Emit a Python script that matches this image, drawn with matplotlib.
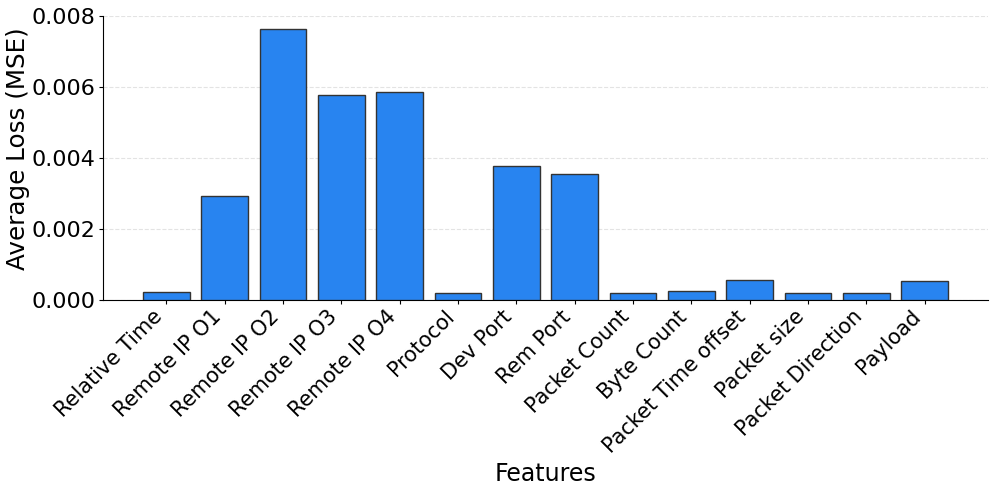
import numpy as np
from matplotlib import pyplot as plt

features = ['Relative Time', 'Remote IP O1', 'Remote IP O2', 'Remote IP O3', 'Remote IP O4',
            'Protocol', 'Dev Port', 'Rem Port', 'Packet Count', 'Byte Count',
            'Packet Time offset', 'Packet size', 'Packet Direction', 'Payload']
avg_loss = [0.00020, 0.00291, 0.00763, 0.00577, 0.00585,
            0.00019, 0.00375, 0.00354, 0.00019, 0.00023,
            0.00054, 0.00017, 0.00018, 0.00051]

fig, ax = plt.subplots(figsize=(9.96, 4.94), dpi=100)
fig.subplots_adjust(left=0.1031, right=0.9923, bottom=0.3937, top=0.9682)

x = np.arange(len(features))
ax.bar(x, avg_loss, width=0.8, color='#2884f0', edgecolor='#333333', linewidth=1, zorder=3)

ax.set_ylim(0, 0.008)
ax.set_yticks([0, 0.002, 0.004, 0.006, 0.008])
ax.yaxis.set_major_formatter(plt.FormatStrFormatter('%.3f'))
ax.set_xticks(x)
ax.set_xticklabels(features, rotation=45, ha='right', fontsize=15)
ax.tick_params(axis='both', length=3, pad=2)
ax.tick_params(axis='y', labelsize=16)
ax.set_xlabel('Features', fontsize=17)
ax.set_ylabel('Average Loss (MSE)', fontsize=17.7)
ax.xaxis.set_label_coords(0.5, -0.5726)
ax.yaxis.set_label_coords(-0.0821, 0.532)

ax.grid(axis='y', ls='--', color='#dddddd', alpha=0.8, zorder=0)
ax.spines['top'].set_visible(False)
ax.spines['right'].set_visible(False)

fig.savefig('out.png', dpi=100)
